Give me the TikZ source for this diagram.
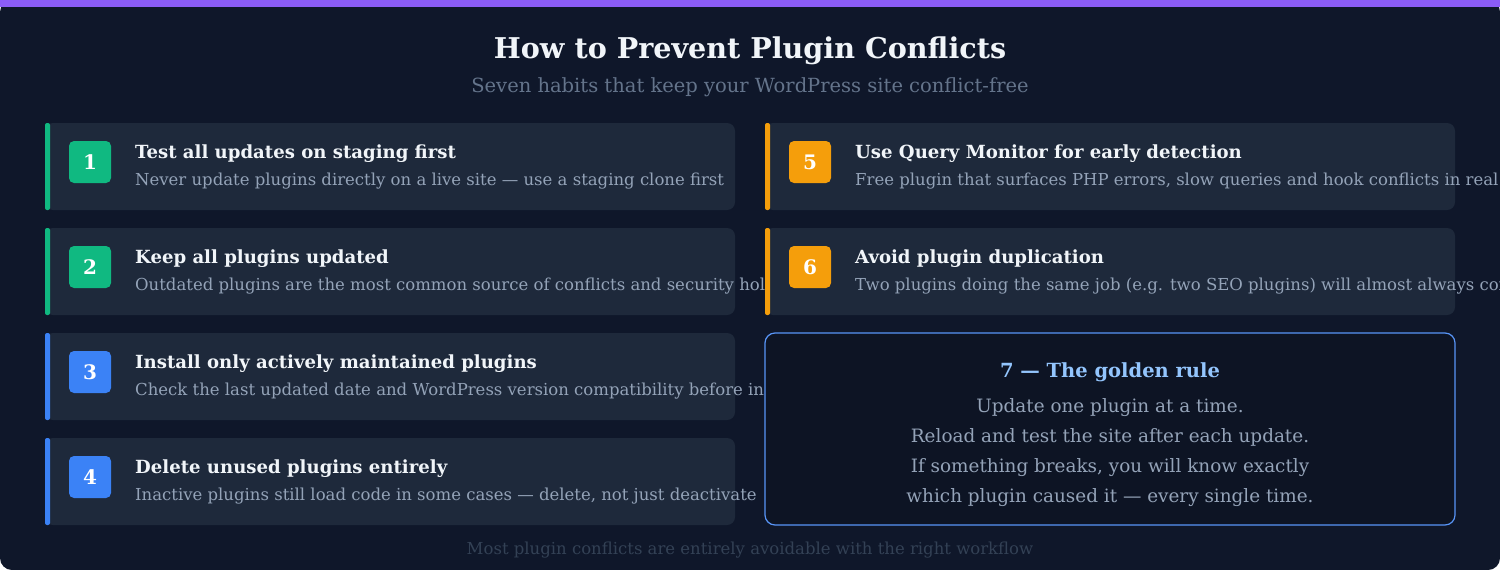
\documentclass[tikz,border=0pt]{standalone}
\usepackage{fontspec}
\setmainfont{DejaVu Serif}
\definecolor{bg}{HTML}{0F172A}
\definecolor{card}{HTML}{1E293B}
\definecolor{purp}{HTML}{8B5CF6}
\definecolor{grn}{HTML}{10B981}
\definecolor{blu}{HTML}{3B82F6}
\definecolor{org}{HTML}{F59E0B}
\definecolor{txt}{HTML}{F1F5F9}
\definecolor{sub}{HTML}{94A3B8}
\definecolor{subt}{HTML}{64748B}
\definecolor{foot}{HTML}{334155}
\definecolor{gold}{HTML}{93C5FD}
\tikzset{
 cardbox/.style={fill=card,rounded corners=8pt,draw=none},
 badge/.style={rounded corners=5pt,minimum width=42pt,minimum height=42pt,inner sep=0pt,text=white,font=\fontsize{20}{20}\selectfont\bfseries},
 ctitle/.style={anchor=west,inner sep=0pt,text=txt,font=\fontsize{18.1}{18}\selectfont\bfseries},
 cdesc/.style={anchor=west,inner sep=0pt,text=sub,font=\fontsize{16.5}{16}\selectfont},
}
\newcommand{\mycard}[6]{% x,y,color,num,title,desc
 \fill[cardbox] (#1,#2) rectangle ++(690,87);
 \fill[#3,rounded corners=2pt] (#1,#2) rectangle ++(5,87);
 \node[badge,fill=#3] (b#4) at (#1+45,#2+39) {#4};
 \node[ctitle] (t#4) at (#1+90,#2+30.5) {#5};
 \node[cdesc] (d#4) at (#1+90,#2+58) {#6};
}
\begin{document}
\begin{tikzpicture}[x=1pt,y=-1pt]
\useasboundingbox (0,0) rectangle (1500,570);
\clip (0,0) rectangle (1500,570);
\fill[bg,rounded corners=12pt] (0,0) rectangle (1500,570);
\fill[purp] (0,0) rectangle (1500,7);
\node[text=txt,font=\fontsize{28.6}{28}\selectfont\bfseries] (title) at (750,51) {How to Prevent Plugin Conflicts};
\node[text=subt,font=\fontsize{19.5}{19}\selectfont] (subtitle) at (750,87) {Seven habits that keep your WordPress site conflict-free};
\mycard{45}{123}{grn}{1}{Test all updates on staging first}{Never update plugins directly on a live site — use a staging clone first}
\mycard{45}{228}{grn}{2}{Keep all plugins updated}{Outdated plugins are the most common source of conflicts and security holes}
\mycard{45}{333}{blu}{3}{Install only actively maintained plugins}{Check the last updated date and WordPress version compatibility before installing}
\mycard{45}{438}{blu}{4}{Delete unused plugins entirely}{Inactive plugins still load code in some cases — delete, not just deactivate}
\mycard{765}{123}{org}{5}{Use Query Monitor for early detection}{Free plugin that surfaces PHP errors, slow queries and hook conflicts in real time}
\mycard{765}{228}{org}{6}{Avoid plugin duplication}{Two plugins doing the same job (e.g. two SEO plugins) will almost always conflict}
\draw[fill=bg!85!black,draw=blu!85!white,line width=1.2pt,rounded corners=10pt] (765,333) rectangle (1455,525);
\node[text=gold,font=\fontsize{19.5}{19}\selectfont\bfseries] (gt) at (1110,372) {7 — The golden rule};
\node[text=sub,font=\fontsize{18.4}{30}\selectfont,align=center] (gd) at (1110,453) {Update one plugin at a time.\\Reload and test the site after each update.\\If something breaks, you will know exactly\\which plugin caused it — every single time.};
\node[text=foot,font=\fontsize{16.5}{16}\selectfont] (footer) at (750,550) {Most plugin conflicts are entirely avoidable with the right workflow};
\end{tikzpicture}
\end{document}
